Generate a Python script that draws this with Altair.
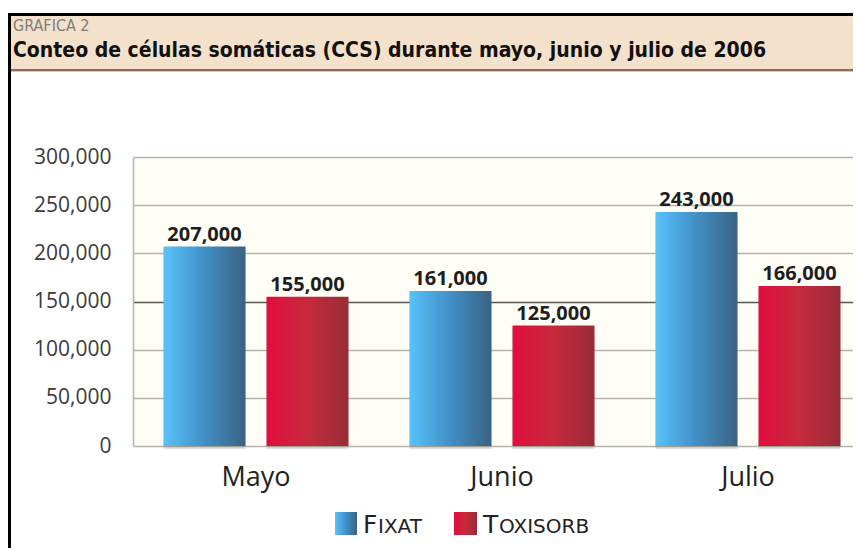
import altair as alt
import pandas as pd

months = ["Mayo", "Junio", "Julio"]
series = ["Fixat", "Toxisorb"]
fixat = [207000, 161000, 243000]
toxisorb = [155000, 125000, 166000]
y_ticks = [0, 50000, 100000, 150000, 200000, 250000, 300000]
kicker = "GRAFICA 2"
title = "Conteo de células somáticas (CCS) durante mayo, junio y julio de 2006"

rows = []
for i, m in enumerate(months):
    rows.append({"mes": m, "serie": series[0], "valor": fixat[i]})
    rows.append({"mes": m, "serie": series[1], "valor": toxisorb[i]})
df = pd.DataFrame(rows)

W, H = 720, 289
FONT = "Open Sans"

blue_grad = {"gradient": "linear", "x1": 0, "x2": 1, "y1": 0, "y2": 0,
             "stops": [{"offset": 0, "color": "#58c2fb"},
                       {"offset": 0.5, "color": "#418fc6"},
                       {"offset": 1, "color": "#3a6283"}]}
red_grad = {"gradient": "linear", "x1": 0, "x2": 1, "y1": 0, "y2": 0,
            "stops": [{"offset": 0, "color": "#e20d3e"},
                      {"offset": 0.5, "color": "#c62a3c"},
                      {"offset": 1, "color": "#982c38"}]}

xs = alt.Scale(domain=months, range=[0, 738], paddingInner=0, paddingOuter=0)
xo = alt.Scale(domain=series, paddingInner=0.204, paddingOuter=0.296)
ys = alt.Scale(domain=[0, 300000], nice=False)

grid_color = {"condition": {"test": "datum.value === 150000", "value": "#5a5a55"},
              "value": "#b4b4ab"}

X_ENC = alt.X("mes:N", scale=xs, sort=months, title=None,
              axis=alt.Axis(labelFontSize=27, labelFont=FONT, labelColor="#222222",
                            labelPadding=18, ticks=False, domain=False, labelAngle=0))
XO_ENC = alt.XOffset("serie:N", scale=xo, sort=series)
Y_ENC = alt.Y("valor:Q", scale=ys, title=None,
              axis=alt.Axis(values=y_ticks, format=",.0f", labelFontSize=21, labelFont=FONT,
                            labelColor="#3a3a3a", labelPadding=22, ticks=False,
                            domain=True, domainColor="#b4b4ab", domainWidth=1.5,
                            grid=True, gridColor=grid_color, gridWidth=1.5))

base = alt.Chart(df)

shadow = base.mark_bar(color="#000000", opacity=0.12, xOffset=5, yOffset=3).encode(
    x=X_ENC, xOffset=XO_ENC, y=Y_ENC)

bars_f = base.transform_filter(alt.datum.serie == series[0]).mark_bar(color=blue_grad).encode(
    x=X_ENC, xOffset=XO_ENC, y=Y_ENC)
bars_t = base.transform_filter(alt.datum.serie == series[1]).mark_bar(color=red_grad).encode(
    x=X_ENC, xOffset=XO_ENC, y=Y_ENC)

labels = base.mark_text(baseline="alphabetic", dy=-6, fontSize=20, fontWeight="bold",
                        font=FONT, color="#1e1e1e").encode(
    x=X_ENC, xOffset=XO_ENC, y=Y_ENC,
    text=alt.Text("valor:Q", format=","),
)

one = alt.Data(values=[{"a": 1}])

def rect(x1, x2, y1, y2, color):
    return alt.Chart(one).mark_rect(color=color).encode(
        x=alt.value(x1), x2=alt.value(x2), y=alt.value(y1), y2=alt.value(y2))

def txt(x, y, s, size, color, weight="normal", font=FONT):
    return alt.Chart(one).mark_text(align="left", baseline="alphabetic", fontSize=size,
                                    fontWeight=weight, font=font, color=color).encode(
        x=alt.value(x), y=alt.value(y), text=alt.value(s))

band = rect(-122, W, -141, -88, "#f4e1cb")
band_line = rect(-122, W, -88, -86, "#8a6a62")
band_line2 = rect(-122, W, -86, -85, "#d9c6bc")
top_border = rect(-125, W, -144, -141, "#000000")
left_border = rect(-125, -122, -144, 391, "#000000")

kick = txt(-120, -126, kicker, 16, "#7d7d7d", font="DejaVu Sans Condensed")
ttl = txt(-120, -100, title, 21, "#111111", weight="bold", font="DejaVu Sans Condensed")

# legend
LF = "DejaVu Sans"
leg_y1, leg_y2 = 355, 378
leg = [
    alt.Chart(one).mark_rect(color=blue_grad).encode(
        x=alt.value(202), x2=alt.value(224), y=alt.value(leg_y1), y2=alt.value(leg_y2)),
    txt(230, 376, series[0][0].upper(), 25, "#222222", font=LF),
    txt(245, 376, series[0][1:].upper(), 20, "#222222", font=LF),
    alt.Chart(one).mark_rect(color=red_grad).encode(
        x=alt.value(321), x2=alt.value(344), y=alt.value(leg_y1), y2=alt.value(leg_y2)),
    txt(350, 376, series[1][0].upper(), 25, "#222222", font=LF),
    txt(366, 376, series[1][1:].upper(), 20, "#222222", font=LF),
]

chart = alt.layer(
    band, band_line, band_line2, top_border, left_border, kick, ttl,
    shadow, bars_f, bars_t, labels, *leg
).properties(
    width=W, height=H,
    padding={"left": 125, "top": 149, "right": 0, "bottom": 102},
    autosize="none",
    background="#ffffff",
).configure_view(fill="#fefef6", stroke=None)

chart.save("out.html", embed_options={"renderer": "svg", "actions": False})
